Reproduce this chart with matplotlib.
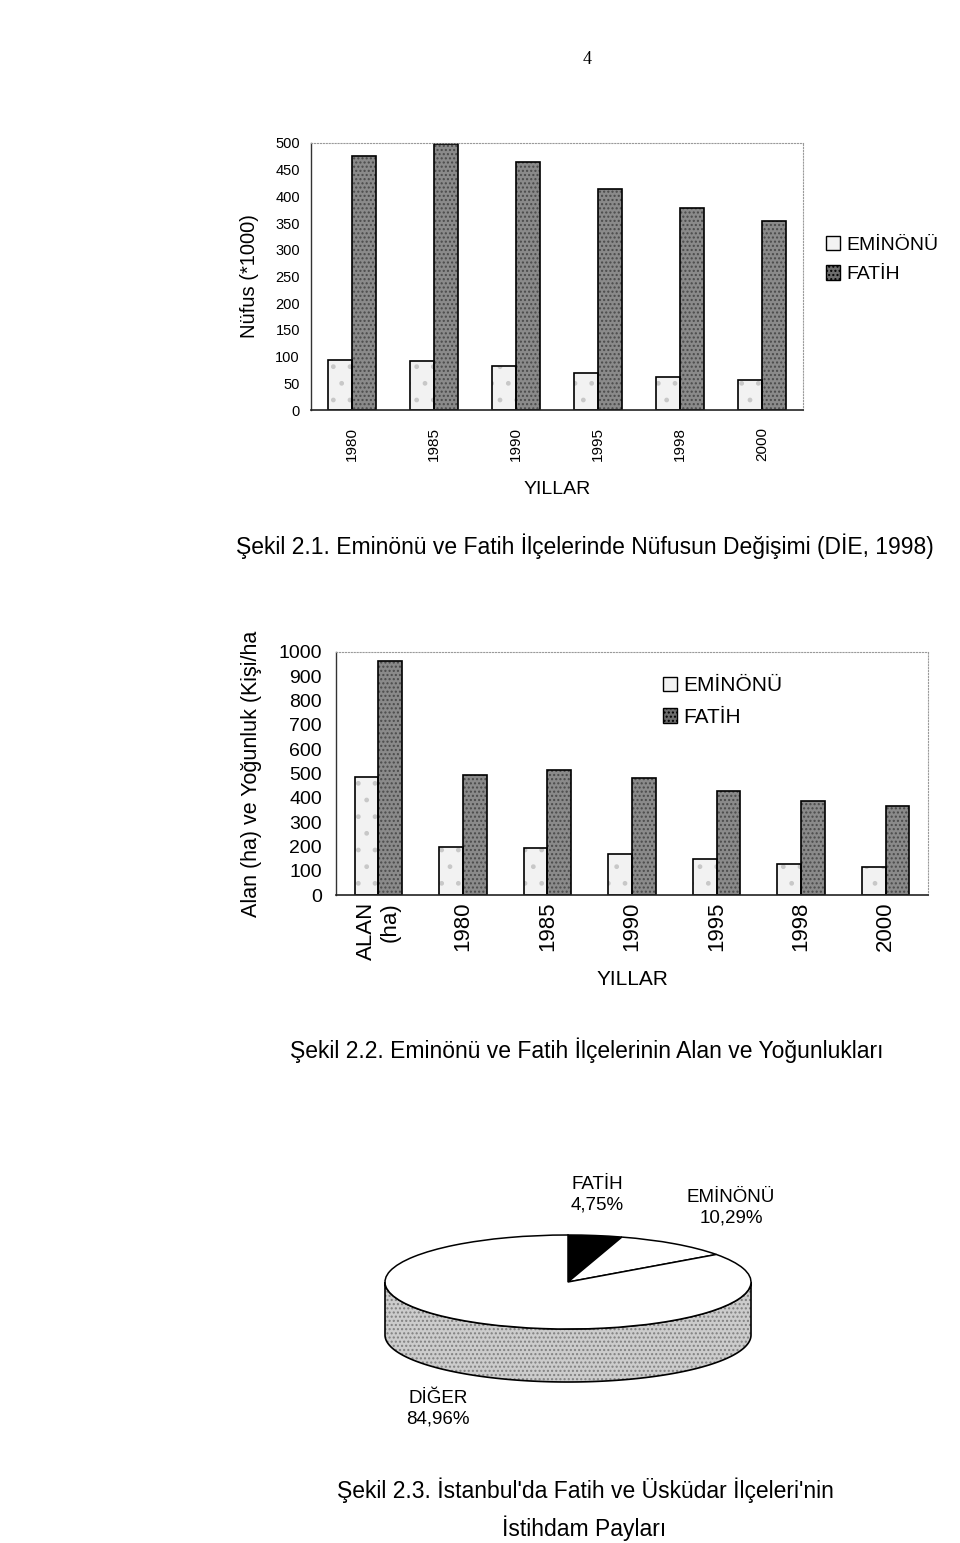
import matplotlib
matplotlib.use('Agg')
import matplotlib.pyplot as plt
from matplotlib.patches import Patch
import numpy as np

# ---------------- data ----------------
years = ['1980', '1985', '1990', '1995', '1998', '2000']
nufus_eminonu = [93, 92, 83, 70, 61, 56]
nufus_fatih = [476, 499, 464, 413, 379, 353]

cats2 = ['ALAN\n(ha)', '1980', '1985', '1990', '1995', '1998', '2000']
yog_eminonu = [486, 199, 193, 170, 148, 129, 117]
yog_fatih = [962, 494, 516, 480, 429, 386, 365]

pie_labels = ['FATİH', 'EMİNÖNÜ', 'DİĞER']
pie_values = [4.75, 10.29, 84.96]

series_names = ['EMİNÖNÜ', 'FATİH']
yticks1 = [0, 50, 100, 150, 200, 250, 300, 350, 400, 450, 500]
yticks2 = [0, 100, 200, 300, 400, 500, 600, 700, 800, 900, 1000]

captions = ['Şekil 2.1. Eminönü ve Fatih İlçelerinde Nüfusun Değişimi (DİE, 1998)',
            'Şekil 2.2. Eminönü ve Fatih İlçelerinin Alan ve Yoğunlukları',
            'Şekil 2.3. İstanbul\'da Fatih ve Üsküdar İlçeleri\'nin',
            'İstihdam Payları']

# ---------------- style ----------------
REG = ['Liberation Sans', 'DejaVu Sans']
plt.rcParams['font.family'] = REG

W, H = 960, 1543
fig = plt.figure(figsize=(W / 100, H / 100), dpi=100)


def box(l, t, r, b):
    return [l / W, 1 - b / H, (r - l) / W, (b - t) / H]


EM_FACE = '#f2f2f2'
FA_FACE = '#8a8a8a'


def draw_bars(ax, cats, em, fa, width):
    x = np.arange(len(cats))
    ax.bar(x - width / 2, em, width, color=EM_FACE, hatch='.', edgecolor='#c8c8c8', linewidth=0)
    ax.bar(x + width / 2, fa, width, color=FA_FACE, hatch='....', edgecolor='#4a4a4a', linewidth=0)
    ax.bar(x - width / 2, em, width, fill=False, edgecolor='black', linewidth=1.2)
    ax.bar(x + width / 2, fa, width, fill=False, edgecolor='black', linewidth=1.2)
    ax.set_xlim(-0.5, len(cats) - 0.5)
    for s in ['top', 'right']:
        ax.spines[s].set_color('#9a9a9a')
        ax.spines[s].set_linestyle(':')
        ax.spines[s].set_linewidth(0.8)
    ax.spines['left'].set_color('#333333')
    ax.spines['left'].set_linestyle((0, (5, 1)))
    ax.spines['left'].set_linewidth(1.0)
    ax.spines['bottom'].set_color('#222222')
    ax.spines['bottom'].set_linewidth(1.2)
    return x


def legend_handles():
    return [Patch(facecolor=EM_FACE, edgecolor='black', linewidth=1.0),
            Patch(facecolor='#6e6e6e', edgecolor='black', linewidth=1.0, hatch='....')]


# ---------------- chart 1 ----------------
ax1 = fig.add_axes(box(311, 143, 803, 410))
x1 = draw_bars(ax1, years, nufus_eminonu, nufus_fatih, 0.29)
ax1.set_ylim(0, 500)
ax1.set_yticks(yticks1)
ax1.set_yticklabels([str(v) for v in yticks1], fontsize=10.5)
ax1.set_xticks(x1)
ax1.set_xticklabels(years, rotation=90, fontsize=11)
ax1.tick_params(axis='both', length=0)
ax1.tick_params(axis='y', pad=8)
ax1.tick_params(axis='x', pad=12)
ax1.set_ylabel('Nüfus (*1000)', fontsize=14.5, labelpad=12)
ax1.set_xlabel('YILLAR', fontsize=14, labelpad=15)

fig.legend(legend_handles(), series_names, loc='upper left', bbox_to_anchor=(818 / W, 1 - 228 / H),
           frameon=False, fontsize=14, handlelength=0.75, handleheight=0.75,
           handletextpad=0.3, labelspacing=0.6, borderaxespad=0)

fig.text(585 / W, 1 - 546 / H, captions[0], ha='center', va='center', fontsize=16.5)

# ---------------- chart 2 ----------------
ax2 = fig.add_axes(box(336, 652, 928, 895))
x2 = draw_bars(ax2, cats2, yog_eminonu, yog_fatih, 0.28)
ax2.set_ylim(0, 1000)
ax2.set_yticks(yticks2)
ax2.set_yticklabels([str(v) for v in yticks2], fontsize=14)
ax2.set_xticks(x2)
ax2.set_xticklabels(cats2, rotation=90, fontsize=16, multialignment='right')
ax2.tick_params(axis='both', length=0)
ax2.tick_params(axis='y', pad=10)
ax2.tick_params(axis='x', pad=5)
ax2.set_ylabel('Alan (ha) ve Yoğunluk (Kişi/ha', fontsize=15.5, labelpad=12)
ax2.set_xlabel('YILLAR', fontsize=15, labelpad=7)
ax2.legend(legend_handles(), series_names, loc='upper left', bbox_to_anchor=(0.538, 0.935),
           frameon=False, handlelength=0.7, handleheight=0.7,
           handletextpad=0.3, labelspacing=0.6, borderaxespad=0, prop={'size': 15})

fig.text(587 / W, 1 - 1050 / H, captions[1], ha='center', va='center', fontsize=16.5)

# ---------------- chart 3 (3D-like pie) ----------------
cx, cy_top = 568, 1282
a_px, b_px = 183, 47
depth = 53 / b_px
pad = 0.05
axp = fig.add_axes(box(cx - a_px * (1 + pad), cy_top - b_px * (1 + pad),
                       cx + a_px * (1 + pad), cy_top + b_px * (1 + depth + pad)))
t = np.linspace(np.pi, 2 * np.pi, 200)
sx = np.concatenate([np.cos(t), np.cos(t[::-1])])
sy = np.concatenate([np.sin(t), np.sin(t[::-1]) - depth])
axp.fill(sx, sy, facecolor='#cccccc', edgecolor='#808080', hatch='....', linewidth=0, zorder=1)
axp.fill(sx, sy, facecolor='none', edgecolor='black', linewidth=1.2, zorder=2)
wedges, _ = axp.pie(pie_values, colors=['black', 'white', 'white'], startangle=90,
                    counterclock=False, radius=1.0,
                    wedgeprops=dict(edgecolor='black', linewidth=1.1))
for w in wedges:
    w.set_zorder(3)
axp.set_aspect('auto')
axp.set_xlim(-1 - pad, 1 + pad)
axp.set_ylim(-1 - depth - pad, 1 + pad)
axp.axis('off')

fmt = lambda v: ('%.2f' % v).replace('.', ',') + '%'
lab_pos = [(597, 1195), (731, 1208), (438, 1409)]
for name, v, (px, py) in zip(pie_labels, pie_values, lab_pos):
    fig.text(px / W, 1 - py / H, name + '\n' + fmt(v), ha='center', va='center',
             fontsize=13.5, linespacing=1.25)

fig.text(585 / W, 1 - 1490 / H, captions[2], ha='center', va='center', fontsize=16.5)
fig.text(584 / W, 1 - 1528 / H, captions[3], ha='center', va='center', fontsize=16.5)

fig.text(587 / W, 1 - 60 / H, '4', ha='center', va='center', fontsize=13,
         family=['Liberation Serif', 'DejaVu Serif'])

fig.savefig('out.png', dpi=100, facecolor='white')
